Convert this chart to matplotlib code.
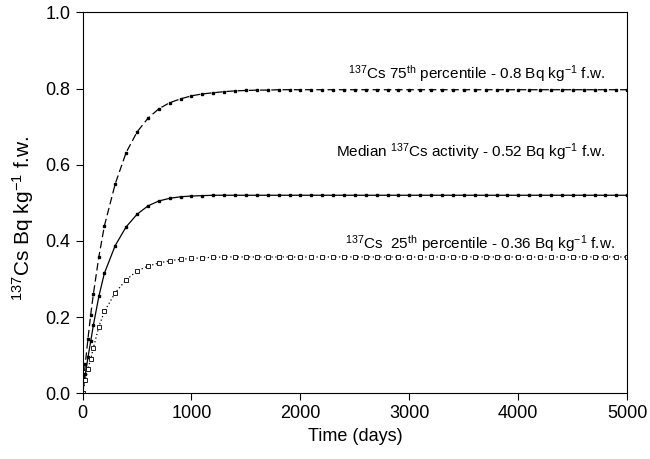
import matplotlib
matplotlib.use("Agg")
import matplotlib.pyplot as plt

plt.rcParams['font.family'] = ['Liberation Sans', 'DejaVu Sans']
plt.rcParams['mathtext.fontset'] = 'custom'
plt.rcParams['mathtext.rm'] = 'Liberation Sans'
plt.rcParams['mathtext.it'] = 'Liberation Sans:italic'
plt.rcParams['mathtext.bf'] = 'Liberation Sans:bold'

# time grid (days)
days = [0, 25, 50, 75, 100, 150, 200] + list(range(300, 5001, 100))

# 75th percentile
p75_head = [0.0, 0.077, 0.144, 0.207, 0.262, 0.359, 0.439, 0.550, 0.632, 0.686,
            0.722, 0.747, 0.763, 0.773, 0.781, 0.786, 0.789, 0.792, 0.794, 0.795,
            0.796, 0.796, 0.797]
# median
med_head = [0.0, 0.050, 0.095, 0.137, 0.180, 0.255, 0.315, 0.388, 0.437, 0.470,
            0.492, 0.505, 0.512, 0.516, 0.518, 0.519, 0.520]
# 25th percentile
p25_head = [0.0, 0.035, 0.065, 0.090, 0.120, 0.175, 0.215, 0.264, 0.298, 0.321,
            0.334, 0.342, 0.348, 0.352, 0.354, 0.356, 0.357, 0.358]

p75 = p75_head + [0.797] * (len(days) - len(p75_head))
median = med_head + [0.520] * (len(days) - len(med_head))
p25 = p25_head + [0.358] * (len(days) - len(p25_head))

fig = plt.figure(figsize=(6.5, 4.59), dpi=100)
ax = fig.add_axes([0.127, 0.143, 0.838, 0.830])

ax.plot(days, p75, color='black', lw=0.9, dashes=(6, 3),
        marker='s', ms=2, mfc='black', mec='black')
ax.plot(days, median, color='black', lw=0.9, ls='-',
        marker='s', ms=2, mfc='black', mec='black')
ax.plot(days, p25, color='black', lw=0.9, dashes=(1, 2),
        marker='s', ms=2.2, mfc='white', mec='black', mew=0.6)

ax.text(4800, 0.84, r'$^{\mathrm{137}}$Cs 75$^{\mathrm{th}}$ percentile - 0.8 Bq kg$^{\mathrm{-1}}$ f.w.',
        ha='right', va='center', fontsize=11)
ax.text(4800, 0.634, r'Median $^{\mathrm{137}}$Cs activity - 0.52 Bq kg$^{\mathrm{-1}}$ f.w.',
        ha='right', va='center', fontsize=11)
ax.text(4890, 0.394, r'$^{\mathrm{137}}$Cs  25$^{\mathrm{th}}$ percentile - 0.36 Bq kg$^{\mathrm{-1}}$ f.w.',
        ha='right', va='center', fontsize=11)

ax.set_xlim(0, 5000)
ax.set_ylim(0, 1.0)
ax.set_xticks([0, 1000, 2000, 3000, 4000, 5000])
ax.set_yticks([0.0, 0.2, 0.4, 0.6, 0.8, 1.0])
ax.set_yticklabels(['0.0', '0.2', '0.4', '0.6', '0.8', '1.0'])
ax.tick_params(direction='out', length=5, labelsize=13, top=False, right=False)
ax.set_xlabel('Time (days)', fontsize=13)
ax.set_ylabel(r'$^{\mathrm{137}}$Cs Bq kg$^{\mathrm{-1}}$ f.w.', fontsize=15)
ax.yaxis.set_label_coords(-0.085, 0.46)

fig.savefig('out.png', dpi=100)
